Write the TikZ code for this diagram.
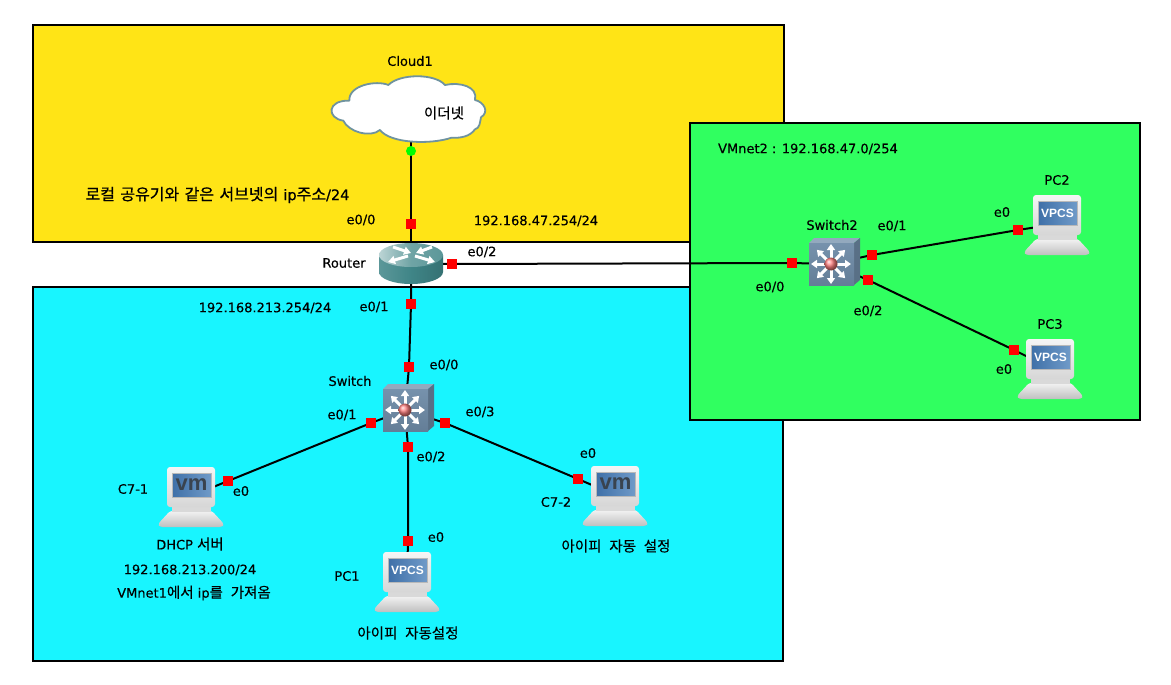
\documentclass[tikz,border=0pt]{standalone}
\usepackage{fontspec}
\setmainfont[FakeBold=0.3]{DejaVu Sans}
\newfontfamily\kr[WordSpace=2.4,FakeBold=0.3]{Noto Sans CJK KR}
\newfontfamily\krbig[WordSpace=1.5,FakeBold=0.6]{Noto Sans CJK KR}
\newfontfamily\latbig[FakeBold=0.6]{DejaVu Sans}
\newfontfamily\lib{Liberation Sans}
\usetikzlibrary{arrows.meta}
\pgfdeclarelayer{ports}
\pgfsetlayers{main,ports}
\definecolor{zoneyellow}{HTML}{FFE416}
\definecolor{zonecyan}{HTML}{18F5FF}
\definecolor{zonegreen}{HTML}{30FF60}
\definecolor{cloudedge}{HTML}{6F939F}
\definecolor{screenblue}{HTML}{3F70A8}
\definecolor{screenlight}{HTML}{6F9AC8}
\definecolor{routerteal}{HTML}{3F8587}
\definecolor{swfront}{HTML}{6F8CA8}
\definecolor{vmgrey}{HTML}{39434F}
\tikzset{
  zone/.style={draw=black,line width=2pt},
  link/.style={draw=black,line width=2pt},
  port/.style={rectangle,fill=red,inner sep=0pt,minimum size=10pt},
  okdot/.style={circle,fill=green,inner sep=0pt,minimum size=10pt},
  lbl/.style={inner sep=0pt,font=\fontsize{13}{15}\selectfont,text=black},
  krlbl/.style={inner sep=0pt,font=\kr\fontsize{14.5}{16}\selectfont,text=black},
  device/.style={inner sep=0pt,minimum width=#1,minimum height=40pt},
  radial/.style={white,line width=3pt,-{Triangle[length=6pt,width=8pt]}},
  routerarrow/.style={white,line width=3pt,-{Triangle[length=7pt,width=8pt]}},
  pics/computer/.style={code={
    \shade[top color=gray!10,bottom color=gray!50,rounded corners=2.5pt] (-21,15)--(21,15)--(33,28)--(31,31)--(-31,31)--(-33,28)--cycle;
    \fill[gray!30] (-19,11) rectangle (20,16);
    \shade[top color=gray!8,bottom color=gray!32,rounded corners=3pt] (-24,-29) rectangle (24,11);
    \shade[left color=screenblue,right color=screenlight,draw=gray!55,line width=.6pt] (-19,-23) rectangle (20,1);
    \node[inner sep=0pt] (#1) at (.5,-11) {\compscreen};
  }},
  pics/router/.style={code={
    \shade[left color=routerteal!85!white,right color=routerteal!85!black,middle color=routerteal] (-32,-8) -- (-32,9) arc[start angle=180,end angle=0,x radius=32,y radius=12] -- (32,-8) -- cycle;
    \shade[left color=routerteal!35!white,right color=routerteal!85!white,middle color=routerteal!75!white] (0,-8) ellipse[x radius=32,y radius=12];
    \draw[routerarrow] (-18,-16) -- (0,-10);
    \draw[routerarrow] (21,-16) -- (5,-10);
    \draw[routerarrow] (-3,-7) -- (-23,-1);
    \draw[routerarrow] (4,-7) -- (24,-1);
  }},
  pics/mlswitch/.style={code={
    \fill[swfront!75!white] (-22,-21)--(23,-21)--(29,-26)--(-17,-26)--cycle;
    \fill[swfront!80!black] (23,-21)--(29,-26)--(29,16)--(23,21)--cycle;
    \shade[top color=swfront!95!white,bottom color=swfront!90!black] (-22,-21) rectangle (23,21);
    \foreach \a in {0,45,...,315}{
      \draw[radial] (\a:4) -- (\a:20);
    }
    \shade[ball color=red!50!white] (0,0) circle (6.5);
  }}
}
\begin{document}
\begin{tikzpicture}[x=1pt,y=-1pt]
\useasboundingbox (0,0) rectangle (1171,685);
\fill[white] (0,0) rectangle (1171,685);
% zones
\draw[zone,fill=zoneyellow] (33,25) rectangle (784,242);
\draw[zone,fill=zonecyan] (33,287) rectangle (783,661);
\draw[zone,fill=zonegreen] (690,123) rectangle (1140,420);
% anchors of the devices
\node[device=150pt] (cloud) at (410,110) {};
\node[device=64pt] (router) at (411,263) {};
\node[device=50pt] (sw) at (405,410) {};
\node[device=50pt] (swb) at (831,264) {};
\node[device=64pt] (c71) at (191,496) {};
\node[device=64pt] (pc1) at (407,581) {};
\node[device=64pt] (c72) at (615,495) {};
\node[device=64pt] (pc2) at (1057,224) {};
\node[device=64pt] (pc3) at (1050,368) {};
% ports
\begin{pgfonlayer}{ports}
\node[okdot] (pcloud) at (411,151) {};
\node[port] (prt0) at (411,224) {};
\node[port] (prt1) at (411,304) {};
\node[port] (prt2) at (452,264) {};
\node[port] (psw0) at (409,367) {};
\node[port] (psw1) at (371,423) {};
\node[port] (psw2) at (408,447) {};
\node[port] (psw3) at (445,423) {};
\node[port] (pc71) at (228,481) {};
\node[port] (ppc1) at (408,541) {};
\node[port] (pc72) at (578,479) {};
\node[port] (psb0) at (792,263) {};
\node[port] (psb1) at (872,255) {};
\node[port] (psb2) at (868,280) {};
\node[port] (ppc2) at (1018,230) {};
\node[port] (ppc3) at (1014,350) {};
\end{pgfonlayer}
% links
\draw[link] (pcloud.center) -- (cloud.south -| pcloud);
\draw[link] (pcloud.center) -- (prt0.center) -- (router.center);
\draw[link] (router.center) -- (prt1.center) -- (psw0.center) -- (sw.center);
\draw[link] (router.center) -- (prt2.center) -- (psb0.center) -- (swb.center);
\draw[link] (sw.center) -- (psw1.center) -- (pc71.center) -- (c71.center);
\draw[link] (sw.center) -- (psw2.center) -- (ppc1.center) -- (pc1.center);
\draw[link] (sw.center) -- (psw3.center) -- (pc72.center) -- (c72.center);
\draw[link] (swb.center) -- (psb1.center) -- (ppc2.center) -- (pc2.center);
\draw[link] (swb.center) -- (psb2.center) -- (ppc3.center) -- (pc3.center);
% cloud
\begin{scope}[shift={(320,40)},x=.3333pt,y=-.3333pt]
\draw[fill=white,draw=cloudedge,line width=1.8pt,line join=round]
 (88,182) .. controls (85,135) and (170,120) .. (205,135)
 .. controls (240,100) and (345,100) .. (375,135)
 .. controls (420,125) and (475,140) .. (465,180)
 .. controls (490,185) and (510,215) .. (483,232)
 .. controls (480,245) and (480,265) .. (465,268)
 .. controls (450,290) and (420,295) .. (395,293)
 .. controls (330,315) and (210,310) .. (180,270)
 .. controls (150,295) and (85,275) .. (70,242)
 .. controls (20,235) and (20,180) .. (88,182) -- cycle;
\end{scope}
% devices on top of the links
\pic at (router.center) {router};
\pic at (sw.center) {mlswitch};
\pic at (swb.center) {mlswitch};
\def\compscreen{\textcolor{vmgrey}{\lib\bfseries\fontsize{22}{22}\selectfont vm}}
\pic at (c71.center) {computer=vm1};
\pic at (c72.center) {computer=vm2};
\def\compscreen{\textcolor{white}{\lib\bfseries\fontsize{12}{12}\selectfont VPCS}}
\pic at (pc1.center) {computer=vp1};
\pic at (pc2.center) {computer=vp2};
\pic at (pc3.center) {computer=vp3};
% labels
\node[lbl] (t01) at (410,61) {Cloud1};
\node[krlbl] (t02) at (444,113) {이더넷};
\node[inner sep=0pt,text=black,font=\fontsize{16}{18}\selectfont] (t03) at (217.5,195) {{\krbig 로컬 공유기와 같은 서브넷의} {\latbig\fontsize{14.5}{18}\selectfont ip}{\krbig 주소}{\latbig\fontsize{14.5}{18}\selectfont /24}};
\node[lbl] (t04) at (361,220) {e0/0};
\node[lbl] (t05) at (536,221) {192.168.47.254/24};
\node[lbl] (t06) at (482,252) {e0/2};
\node[lbl] (t07) at (344,263) {Router};
\node[lbl] (t08) at (265,308) {192.168.213.254/24};
\node[lbl] (t09) at (374,307) {e0/1};
\node[lbl] (t10) at (444,365) {e0/0};
\node[lbl] (t11) at (350,381) {Switch};
\node[lbl] (t12) at (342,415) {e0/1};
\node[lbl] (t13) at (480,412) {e0/3};
\node[lbl] (t14) at (431,457) {e0/2};
\node[lbl] (t15) at (241,491) {e0};
\node[lbl] (t16) at (133,489) {C7-1};
\node[lbl] (t17) at (190,544) {DHCP {\kr\fontsize{14.5}{16}\selectfont 서버}};
\node[lbl] (t18) at (190,570) {192.168.213.200/24};
\node[lbl] (t19) at (194,593) {VMnet1{\kr\fontsize{14.5}{16}\selectfont 에서} ip{\kr\fontsize{14.5}{16}\selectfont 를 가져옴}};
\node[lbl] (t20) at (436,537) {e0};
\node[lbl] (t21) at (347,576) {PC1};
\node[krlbl] (t22) at (408,633) {아이피 자동설정};
\node[lbl] (t23) at (588,453) {e0};
\node[lbl] (t24) at (556,502) {C7-2};
\node[krlbl] (t25) at (616,546) {아이피 자동 설정};
\node[lbl] (t26) at (808,149) {VMnet2 : 192.168.47.0/254};
\node[lbl] (t27) at (832,225) {Switch2};
\node[lbl] (t28) at (892,226) {e0/1};
\node[lbl] (t29) at (1002,212) {e0};
\node[lbl] (t30) at (1057,180) {PC2};
\node[lbl] (t31) at (770,287) {e0/0};
\node[lbl] (t32) at (868,311) {e0/2};
\node[lbl] (t33) at (1050,324) {PC3};
\node[lbl] (t34) at (1004,369) {e0};
\end{tikzpicture}
\end{document}
